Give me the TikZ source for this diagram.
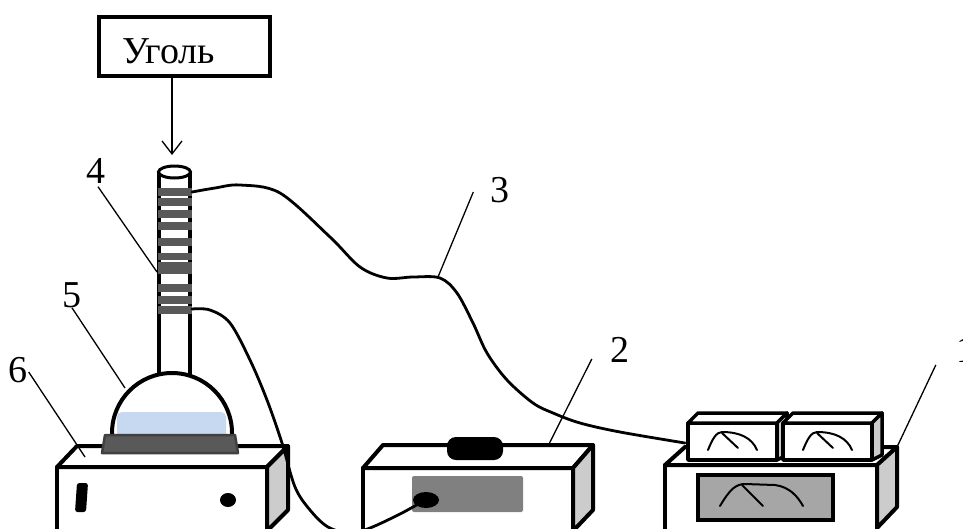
\documentclass[tikz,border=0pt]{standalone}
\usepackage{fontspec}
\setmainfont{Liberation Serif}
\usetikzlibrary{arrows.meta,positioning,calc}

\definecolor{coilgray}{HTML}{595959}
\definecolor{platerim}{HTML}{404040}
\definecolor{sidegray}{HTML}{CCCCCC}
\definecolor{panelgray}{HTML}{808080}
\definecolor{scalegray}{HTML}{A6A6A6}
\definecolor{solution}{HTML}{C6D9F0}

\begin{document}
\begin{tikzpicture}[x=1pt, y=-1pt,
  case/.style={draw, line width=4pt, line join=round, fill=white},
  side/.style={case, fill=sidegray},
  wire/.style={line width=2.8pt, line cap=round},
  leader/.style={line width=1.3pt},
  num/.style={inner sep=0pt, font=\fontsize{38}{38}\selectfont},
  dial/.style={line width=2pt, line cap=round}
]
\clip (0,0) rectangle (963,528);

% feed
\node[draw, line width=4pt, text width=125pt, align=left, inner xsep=23pt, inner ysep=12.5pt,
  text height=33.5pt, text depth=0.5pt, font=\fontsize{38}{38}\selectfont] (coal) at (184.5,46.5) {Уголь};
\coordinate (feed) at (172,155);
\draw[line width=1.3pt, -{Straight Barb[length=13pt, width=20pt]}] (coal.south -| feed) -- (feed);

% hotplate
\draw[case] (57,467) rectangle (267,540);
\draw[case] (57,467) -- (77,446) -- (288,446) -- (267,467) -- cycle;
\draw[side] (267,467) -- (288,446) -- (288,510) -- (267,531) -- cycle;
\fill[rounded corners=2.5pt] (77,483) -- (88,483) -- (86,512) -- (75,512) -- cycle;
\fill (228,500) ellipse (8 and 7);

% column with winding
\draw[line width=4pt, fill=white] (159,378) -- (159,173) -- (190,173) -- (190,378);
\foreach \y/\h in {188/8, 198/8, 210/8, 222/8, 238/8, 253/7, 262/12, 284/8, 296/8, 306/8}
  \fill[coilgray] (157.5,\y) rectangle (191.5,\y+\h);
\draw[line width=3pt, fill=white] (174.5,172) ellipse (16 and 6);

% flask
\draw[line width=4pt, fill=white] (112,440) -- (112,433) arc[start angle=180, end angle=360, radius=60] -- (232,440);
\fill[solution, rounded corners=5pt] (117,440) -- (117,412) -- (226,412) -- (226,440) -- cycle;
\filldraw[draw=platerim, fill=coilgray, line width=2.5pt, line join=round]
  (102,453) -- (105,435) -- (235,435) -- (238,453) -- cycle;

% stirrer
\draw[case] (363,468) rectangle (573,540);
\draw[case] (363,468) -- (383,445) -- (593,445) -- (573,468) -- cycle;
\draw[side] (573,468) -- (593,445) -- (593,510) -- (573,531) -- cycle;
\fill[rounded corners=9pt] (447,437) rectangle (503,460);
\fill[panelgray, rounded corners=2pt] (412,476) rectangle (523,512);
\fill (426,500) ellipse (13 and 8);

% meter unit
\draw[case] (665,465) rectangle (877,540);
\draw[case] (665,465) -- (685,447) -- (897,447) -- (877,465) -- cycle;
\draw[side] (877,465) -- (897,447) -- (897,507) -- (877,528) -- cycle;
\draw[line width=4pt, fill=scalegray] (698,475) rectangle (833,520);
\draw[dial] (720,506) .. controls (730,489) and (736,484) .. (745,484) -- (775,485)
  .. controls (790,487) and (798,497) .. (803,506);
\draw[dial] (742,485) -- (763,506);
\foreach \dx in {0,95} {
  \draw[case, line width=3.5pt] (688+\dx,423) rectangle (777+\dx,460);
  \draw[case, line width=3.5pt] (688+\dx,423) -- (698+\dx,413) -- (787+\dx,413) -- (777+\dx,423) -- cycle;
  \draw[side, line width=3.5pt] (777+\dx,423) -- (787+\dx,413) -- (787+\dx,455) -- (777+\dx,460) -- cycle;
  \draw[dial] (708+\dx,450) .. controls (712+\dx,440) and (716+\dx,432) .. (722+\dx,432)
    .. controls (740+\dx,432) and (752+\dx,438) .. (757+\dx,450);
  \draw[dial] (722+\dx,433) -- (738+\dx,448);
}

% wires
\coordinate (tapA) at (192,192);
\coordinate (tapB) at (192,309);
\coordinate (meterin) at (685,443);
\coordinate (stirin) at (420,503);
\draw[wire] plot[smooth, tension=0.55] coordinates {(tapA) (215,188) (240,185) (280,193) (330,237)
  (360,267) (387,278) (413,277) (440,278) (457,293) (473,323) (487,353) (507,380) (533,403)
  (553,413) (580,423) (620,432) (meterin)};
\draw[wire] plot[smooth, tension=0.55] coordinates {(tapB) (210,310) (230,323) (250,360) (267,400)
  (282,443) (295,487) (310,510) (328,527) (350,533) (370,528) (400,514) (stirin)};

% labels
\node[num] (n4) at (96,171) {4};
\node[num] (n5) at (72,295) {5};
\node[num] (n6) at (18,370) {6};
\node[num] (n3) at (500,190) {3};
\node[num] (n2) at (620,350) {2};
\node[num] (n1) at (965.5,350) {1};
\coordinate (c4) at (157,272);
\coordinate (c5) at (125,388);
\coordinate (c6) at (85,457);
\coordinate (c3) at (438,277);
\coordinate (c2) at (549,444);
\coordinate (c1) at (897,447);
\draw[leader] (n4.south) ++(2,3) -- (c4);
\draw[leader] (n5.south) -- (c5);
\draw[leader] (n6.east) ++(1,2) -- (c6);
\draw[leader] (n3.west) ++(-17,2) -- (c3);
\draw[leader] (n2.west) ++(-18.5,9) -- (c2);
\draw[leader] (n1.west) ++(-20,15) -- (c1);
\end{tikzpicture}
\end{document}
